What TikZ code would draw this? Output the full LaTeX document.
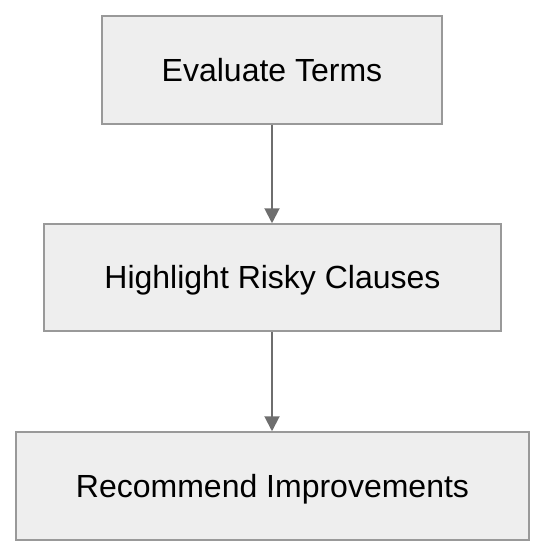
\documentclass[tikz,border=0pt]{standalone}
\usepackage{fontspec}
\setmainfont{Liberation Sans}
\usetikzlibrary{arrows.meta}
\definecolor{boxfill}{HTML}{EEEEEE}
\definecolor{boxline}{HTML}{999999}
\definecolor{arrowc}{HTML}{6E6E6E}
\begin{document}
\begin{tikzpicture}[x=1pt,y=-1pt,
  stepbox/.style={draw=boxline,line width=1.5pt,fill=boxfill,inner sep=0pt,
    text height=22.5pt,text depth=0pt,
    font=\fontsize{32}{38}\selectfont},
  conn/.style={draw=arrowc,line width=2pt,-{Triangle[length=15pt,width=15pt]}}]
\useasboundingbox (0,0) rectangle (546,556);
\node[stepbox,minimum width=340pt,minimum height=108pt] (a) at (272,70) {Evaluate Terms};
\node[stepbox,minimum width=457pt,minimum height=107pt] (b) at (272.5,277.5) {Highlight Risky Clauses};
\node[stepbox,minimum width=513pt,minimum height=108pt] (c) at (272.5,486) {Recommend Improvements};
\draw[conn] (a.south -| 272,0) -- (b.north -| 272,0);
\draw[conn] (b.south -| 272,0) -- (c.north -| 272,0);
\end{tikzpicture}
\end{document}
